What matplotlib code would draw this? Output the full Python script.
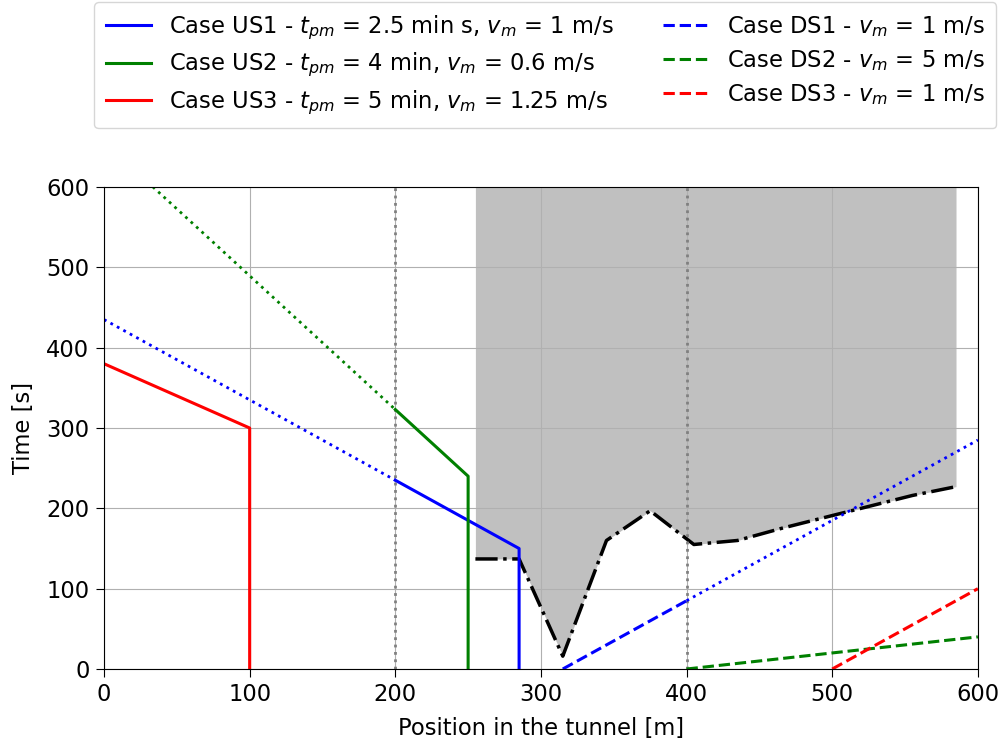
import numpy as np
import matplotlib
matplotlib.use("Agg")
import matplotlib.pyplot as plt

# Upstream cases (solid part, then dotted extension back in time)
us1_x = [200, 285, 285]
us1_t = [235, 150, 0]
us1_ext_x = [0, 200]
us1_ext_t = [435, 235]

us2_x = [200, 250, 250]
us2_t = [323, 240, 0]
us2_ext_x = [0, 200]
us2_ext_t = [656, 323]

us3_x = [0, 100, 100]
us3_t = [380, 300, 0]

# Downstream cases
ds1_x = [315, 400]
ds1_t = [0, 85]
ds1_ext_x = [400, 600]
ds1_ext_t = [85, 285]

ds2_x = [400, 600]
ds2_t = [0, 40]

ds3_x = [500, 600]
ds3_t = [0, 100]

# Smoke front (lower boundary of the smoke region)
smoke_x = [255, 285, 315, 345, 375, 405, 435, 465, 500, 555, 585]
smoke_t = [137, 137, 16, 160, 197, 155, 160, 175, 191, 216, 227]

# Section boundaries
sections = [200, 400]

plt.rcParams['font.size'] = 16.3
plt.rcParams['mathtext.fontset'] = 'dejavusans'

fig = plt.figure(figsize=(10.05, 7.45), dpi=100)
ax = fig.add_axes([0.1035, 0.102, 0.8695, 0.647])

ax.fill_between(smoke_x, smoke_t, 600, color='silver', lw=0)
ax.plot(smoke_x, smoke_t, color='black', ls='-.', lw=2.5)

for s in sections:
    ax.axvline(s, color='gray', ls=':', lw=2)

h1, = ax.plot(us1_x, us1_t, color='blue', lw=2.2,
              label=r'Case US1 - $t_{pm}$ = 2.5 min s, $v_m$ = 1 m/s')
ax.plot(us1_ext_x, us1_ext_t, color='blue', ls=':', lw=2)
h2, = ax.plot(us2_x, us2_t, color='green', lw=2.2,
              label=r'Case US2 - $t_{pm}$ = 4 min, $v_m$ = 0.6 m/s')
ax.plot(us2_ext_x, us2_ext_t, color='green', ls=':', lw=2)
h3, = ax.plot(us3_x, us3_t, color='red', lw=2.2,
              label=r'Case US3 - $t_{pm}$ = 5 min, $v_m$ = 1.25 m/s')

h4, = ax.plot(ds1_x, ds1_t, color='blue', ls='--', lw=2.2,
              label=r'Case DS1 - $v_m$ = 1 m/s')
ax.plot(ds1_ext_x, ds1_ext_t, color='blue', ls=':', lw=2)
h5, = ax.plot(ds2_x, ds2_t, color='green', ls='--', lw=2.2,
              label=r'Case DS2 - $v_m$ = 5 m/s')
h6, = ax.plot(ds3_x, ds3_t, color='red', ls='--', lw=2.2,
              label=r'Case DS3 - $v_m$ = 1 m/s')

ax.set_xlim(0, 600)
ax.set_ylim(0, 600)
ax.set_xticks(np.arange(0, 601, 100))
ax.set_yticks(np.arange(0, 601, 100))
ax.tick_params(axis='x', length=5.5, pad=4.5)
ax.tick_params(axis='y', length=5.5, pad=5)
ax.grid(True)
ax.set_xlabel('Position in the tunnel [m]', labelpad=8)
ax.set_ylabel('Time [s]', labelpad=8)

fig.legend(handles=[h1, h2, h3, h4, h5, h6], ncol=2, loc='upper center',
           bbox_to_anchor=(0.5425, 0.997), borderaxespad=0, borderpad=0.5,
           labelspacing=0.4, columnspacing=2.2)

fig.savefig('out.png', dpi=100)
